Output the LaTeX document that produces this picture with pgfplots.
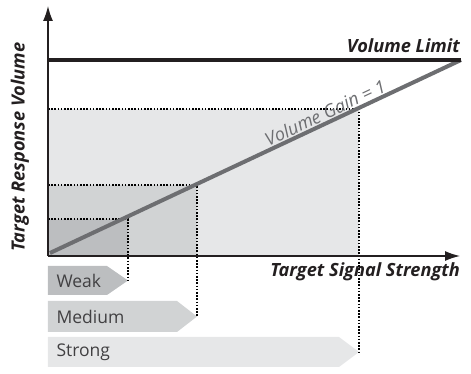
\documentclass[border=0pt]{standalone}
\usepackage{pgfplots}
\pgfplotsset{compat=1.18}
\usetikzlibrary{arrows.meta}
\usepackage{fontspec}
\setmainfont{Open Sans}
\definecolor{weakgray}{HTML}{BCBEC0}
\definecolor{medgray}{HTML}{D1D3D4}
\definecolor{stronggray}{HTML}{E6E7E8}
\definecolor{gainline}{HTML}{6D6E71}
\definecolor{inkblack}{HTML}{231F20}
\definecolor{labelgray}{HTML}{414042}

\begin{document}
\begin{tikzpicture}
\begin{axis}[
    scale only axis,
    width=412pt, height=250pt,
    xmin=0, xmax=412, ymin=0, ymax=250,
    axis lines=left,
    axis on top,
    xtick=\empty, ytick=\empty,
    axis line style={line width=1.3pt, inkblack, -{Latex[length=15pt,width=10pt]}},
    clip=false,
]
% shaded zones
\addplot[fill=stronggray, draw=none] coordinates {(0,0) (311,0) (311,147) (0,147)};
\addplot[fill=medgray, draw=none] coordinates {(0,0) (149,0) (149,71) (0,71)};
\addplot[fill=weakgray, draw=none] coordinates {(0,0) (80,0) (80,37) (0,37)};

% signal level tags below the axis
\addplot[fill=weakgray, draw=none] coordinates {(0,-10) (59,-10) (80,-24.5) (59,-39) (0,-39)};
\addplot[fill=medgray, draw=none] coordinates {(0,-45) (129,-45) (149,-60.5) (129,-76) (0,-76)};
\addplot[fill=stronggray, draw=none] coordinates {(0,-81) (291,-81) (311,-96) (291,-111) (0,-111)};

% dotted guides
\pgfplotsset{guide/.style={black, line width=1.7pt, line cap=butt, dash pattern=on 1.6pt off 1.6pt}}
\addplot[guide] coordinates {(0,147) (311,147) (311,-96)};
\addplot[guide] coordinates {(0,71) (149,71) (149,-60.5)};
\addplot[guide] coordinates {(0,37) (80,37) (80,-24.5)};

% response lines
\addplot[gainline, line width=4pt] coordinates {(2,3) (413,196)};
\addplot[inkblack, line width=4pt] coordinates {(0,196) (413,196)};

\node[anchor=west, text=labelgray, font=\fontsize{17.5}{20}\selectfont] at (axis cs:5,-24.5) {Weak};
\node[anchor=west, text=labelgray, font=\fontsize{17.5}{20}\selectfont] at (axis cs:5,-60.5) {Medium};
\node[anchor=west, text=labelgray, font=\fontsize{17.5}{20}\selectfont] at (axis cs:5,-96) {Strong};

\node[anchor=base east, inner sep=0pt, text=inkblack, font=\fontsize{18.2}{21}\selectfont\bfseries\itshape] at (axis cs:412,203) {Volume Limit};
\node[anchor=north east, inner sep=0pt, text=inkblack, font=\fontsize{18.2}{21}\selectfont\bfseries\itshape] at (axis cs:412,-6) {Target Signal Strength};
\node[rotate=90, inner sep=0pt, text=inkblack, font=\fontsize{18.2}{21}\selectfont\bfseries\itshape] at (axis cs:-28,109) {Target Response Volume};
\node[rotate=25.2, anchor=south, inner sep=2pt, text=gainline, font=\fontsize{18}{20}\selectfont\itshape] at (axis cs:281,135) {Volume Gain = 1};

\coordinate (bl) at (axis cs:-48,-118);
\coordinate (tr) at (axis cs:423,256);
\end{axis}
\pgfresetboundingbox
\path (bl) rectangle (tr);
\end{tikzpicture}
\end{document}
